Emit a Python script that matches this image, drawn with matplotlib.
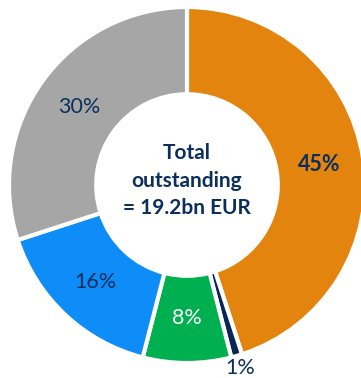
import numpy as np
import matplotlib.pyplot as plt

labels = ["A", "B", "C", "D", "E"]
shares = [45, 1, 8, 16, 30]
colors = ["#E3840E", "#0A2456", "#00B050", "#0E8CF7", "#A6A6A6"]
label_colors = ["#0B2F5C", "#0B2F5C", "white", "#0B2F5C", "#0B2F5C"]
label_weights = ["bold", "normal", "normal", "normal", "normal"]
center_text = "Total\noutstanding\n= 19.2bn EUR"

plt.rcParams['font.family'] = ['Lato', 'DejaVu Sans']

W, H = 361, 378
fig = plt.figure(figsize=(W / 100, H / 100), dpi=100)
cx, cy, R = 187, 185, 178
ax = fig.add_axes([(cx - R) / W, (H - cy - R) / H, 2 * R / W, 2 * R / H])

wedges, _ = ax.pie(shares, colors=colors, startangle=90, counterclock=False,
                   radius=1, wedgeprops=dict(width=0.49, edgecolor="white", linewidth=3))
for w in wedges:
    w.set_clip_on(False)

for w, v, c, fw in zip(wedges, shares, label_colors, label_weights):
    ang = np.deg2rad((w.theta1 + w.theta2) / 2)
    r = 1.07 if v < 3 else 0.75
    ax.text(r * np.cos(ang), r * np.sin(ang), f"{v}%", ha="center", va="center",
            fontsize=15.5, color=c, fontweight=fw)

ax.text(0, 0.025, center_text, ha="center", va="center", fontsize=15,
        fontweight="bold", color="#0B2F5C", linespacing=1.45)

ax.set_xlim(-1, 1)
ax.set_ylim(-1, 1)
ax.set_aspect("equal")
ax.axis("off")

fig.savefig("out.png", dpi=100)
